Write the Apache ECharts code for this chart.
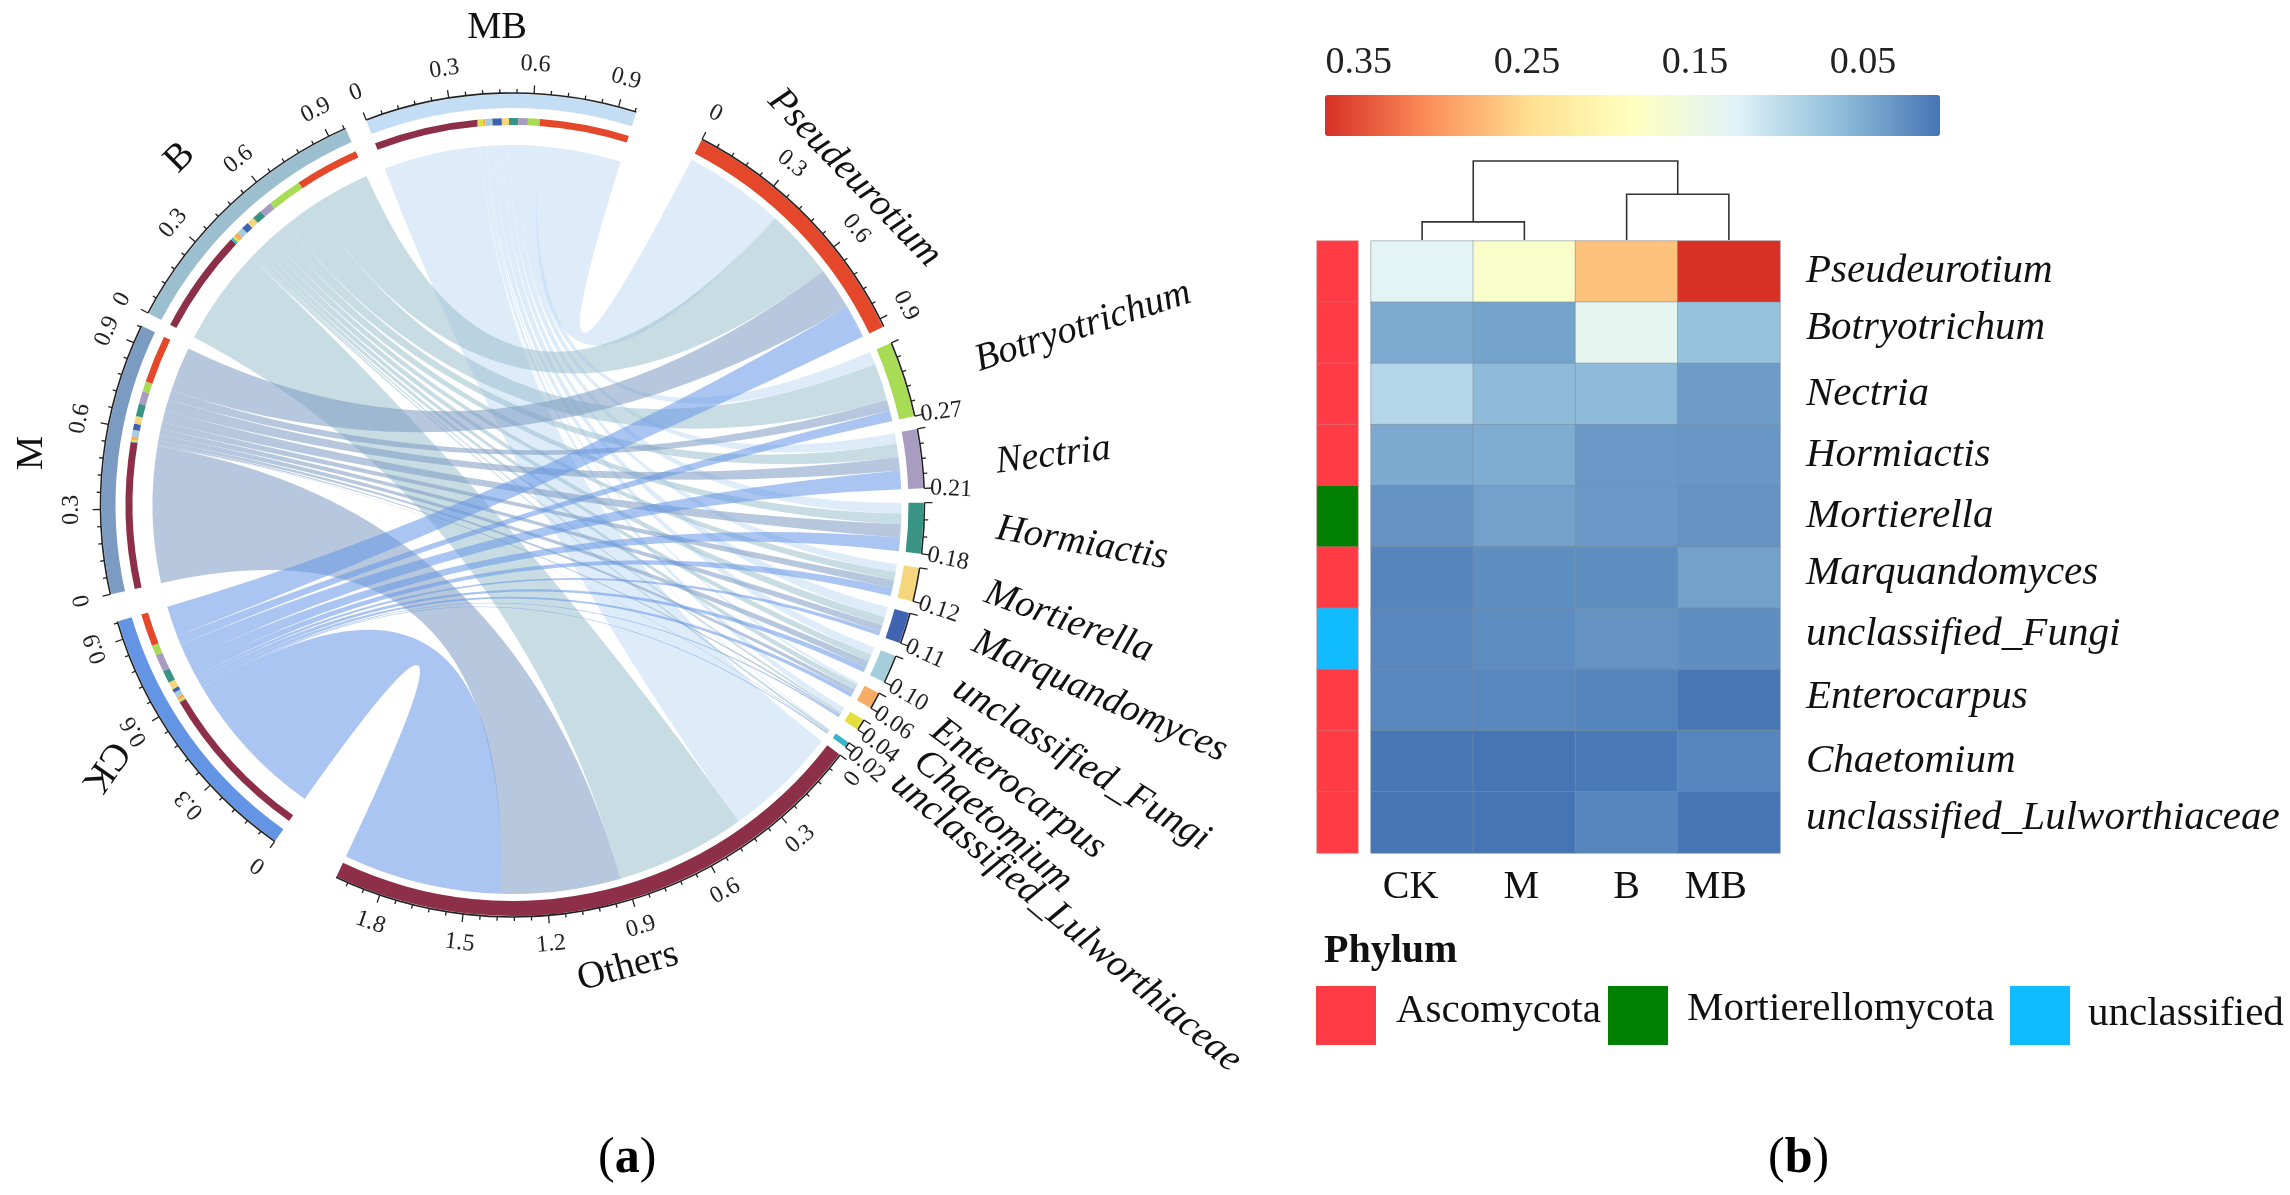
<!DOCTYPE html>
<html><head><meta charset="utf-8">
<style>html,body{margin:0;padding:0;background:#fff}#c{width:2290px;height:1195px}</style>
<script src="https://cdn.jsdelivr.net/npm/echarts@6/dist/echarts.min.js"></script>
</head><body><div id="c"></div>
<script>
// ---------- data ----------
const genera = ['Pseudeurotium','Botryotrichum','Nectria','Hormiactis','Mortierella','Marquandomyces','unclassified_Fungi','Enterocarpus','Chaetomium','unclassified_Lulworthiaceae','Others'];
const linkSamples = ['MB','B','M','CK'];
// composition of each sample (drawn on the sample side of the chords, columns follow linkSamples)
const flowPseudeurotium = [.38,.26,.19,.13];
const flowBotryotrichum = [.05,.14,.04,.04];
const flowNectria = [.04,.05,.05,.07];
const flowHormiactis = [.04,.04,.05,.05];
const flowMortierella = [.03,.03,.03,.03];
const flowMarquandomyces = [.04,.03,.025,.015];
const flowFungi = [.03,.025,.025,.02];
const flowEnterocarpus = [.01,.02,.015,.015];
const flowChaetomium = [.02,.008,.006,.006];
const flowLulworthiaceae = [.004,.01,.003,.003];
const flowOthers = [.44,.42,.58,.64];
const flows = [flowPseudeurotium,flowBotryotrichum,flowNectria,flowHormiactis,flowMortierella,flowMarquandomyces,flowFungi,flowEnterocarpus,flowChaetomium,flowLulworthiaceae,flowOthers];
// widths read at the genus end of the two large sectors
const genusEndPseudeurotium = [.38,.265,.16,.125];
const genusEndOthers = [.43,.49,.45,.595];
const sampleAxisTotal = .965;
const genusEndLabels = [null,'0.27','0.21','0.18','0.12','0.11','0.10','0.06','0.04','0.02',null];
const genusTickDivisions = [null,5,4,3,1,1,1,1,1,1,null];
const majorTickLabels = ['0','0.3','0.6','0.9','1.2','1.5','1.8'];

const heatSamples = ['CK','M','B','MB'];
const heatGenera = genera.slice(0,10);
const heatPseudeurotium = [.13,.176,.27,.37];
const heatBotryotrichum = [.048,.042,.135,.068];
const heatNectria = [.092,.062,.062,.036];
const heatHormiactis = [.047,.05,.033,.032];
const heatMortierella = [.028,.04,.033,.028];
const heatMarquandomyces = [.017,.025,.025,.04];
const heatFungi = [.02,.024,.028,.025];
const heatEnterocarpus = [.02,.02,.016,.006];
const heatChaetomium = [.006,.003,.007,.018];
const heatLulworthiaceae = [.005,.004,.018,.004];
const heatRows = [heatPseudeurotium,heatBotryotrichum,heatNectria,heatHormiactis,heatMortierella,heatMarquandomyces,heatFungi,heatEnterocarpus,heatChaetomium,heatLulworthiaceae];
const phylumNames = ['Ascomycota','Mortierellomycota','unclassified'];
const genusPhylum = [0,0,0,0,1,0,2,0,0,0];
const colorbarTicks = [.35,.25,.15,.05];
// dendrogram merges: left x, right x, left child height, right child height, merge height
const dendroMerges = [[0,1,0,0,.23],[2,3,0,0,.58],[.5,2.5,.23,.58,1]];

// ---------- style ----------
const SERIF = '"Liberation Serif","Times New Roman",serif';
const genusColors = ['#E4472A','#A8DC55','#A89CC0','#3A9486','#F6D67D','#3F63B0','#A5CDDC','#F6AD63','#E5DF3C','#35B7C9','#8D2F49'];
const sampleColors = {MB:'#C3DDF5',B:'#9BBFCE',M:'#7C9BC2',CK:'#6495E5'};
const phylumColors = ['#FF3B45','#008000','#10BBFF'];
const heatStops = ['#4575B4','#91BFDB','#E0F3F8','#FFFFBF','#FEE090','#FC8D59','#D73027'];
const CX=512.5, CY=505, START=27.4;
const LBL_CX=519, LBL_CY=510;
const sectorGaps = [2.5,1.8,2,1.95,1.7,1.9,1.7,1.9,2.2,1.3,9.9,3.9,2,3.1,9.9];
const R = {axis:412, barOut:411, barIn:396, genusLink:389, sampleBarIn:397, stackOut:387, stackIn:380, sampleLink:360, tickLabel:441};
const namePlace = { // radius, angle, rotation
 Pseudeurotium:[472,45.3,46], Botryotrichum:[593,72,-18], Nectria:[537,84.2,-7], Hormiactis:[564,93.4,10],
 Mortierella:[561,101.5,20], Marquandomyces:[610,107.8,24], unclassified_Fungi:[617,114.3,32], Enterocarpus:[572,119.2,37],
 Chaetomium:[567,123.3,41], unclassified_Lulworthiaceae:[685,127,40], Others:[470,166.6,-15], CK:[487,238.2,125], M:[490,276.7,-90], B:[489,316.1,-45], MB:[483,357.4,0]};
const rowLabelLift = [0,9,0,0,0,9,9,6,0,9];
const HEAT = {l:1371,t:241,w:409,h:612};
const BAR = {l:1325,t:95,w:615,h:41,vmin:.004,vmax:.37};

// ---------- chord geometry from the data ----------
const sum = a => a.reduce((p,c)=>p+c,0);
const genusSide = flows.slice(); genusSide[0]=genusEndPseudeurotium; genusSide[10]=genusEndOthers;
const genusTotals = genusSide.map(sum);
const sampleRaw = linkSamples.map((s,j)=>sum(flows.map(r=>r[j])));
const sectorNames = genera.concat(['CK','M','B','MB']);
const sectorTotals = genusTotals.concat(linkSamples.map(()=>sampleAxisTotal));
const DEG = (360-sum(sectorGaps))/sum(sectorTotals);
const sectors = {}; let ang = START;
sectorNames.forEach((n,i)=>{ sectors[n]={name:n,start:ang,total:sectorTotals[i],end:ang+sectorTotals[i]*DEG}; ang=sectors[n].end+sectorGaps[i]; });
const pt = (a,r)=>[CX+r*Math.sin(a*Math.PI/180), CY-r*Math.cos(a*Math.PI/180)];
const fmt = p=>p[0].toFixed(2)+' '+p[1].toFixed(2);
function arcPath(a1,a2,r){return `A ${r} ${r} 0 0 1 ${fmt(pt(a2,r))}`;}
function band(a1,a2,r1,r2){return `M ${fmt(pt(a1,r2))} ${arcPath(a1,a2,r2)} L ${fmt(pt(a2,r1))} A ${r1} ${r1} 0 0 0 ${fmt(pt(a1,r1))} Z`;}

// genus side order clockwise: MB,B,M,CK; sample side order clockwise: Others, Lulworthiaceae ... Pseudeurotium
const links=[]; const stacks=[];
const gPos = genera.map(n=>sectors[n].start);
const sPos = {}; linkSamples.forEach(s=>sPos[s]=sectors[s].start);
const genusAngle = {};
genusSide.forEach((row,g)=>{ row.forEach((v,j)=>{ const a1=gPos[g], a2=a1+v*DEG; gPos[g]=a2; genusAngle[g+'_'+j]=[a1,a2]; }); });
for(let g=genera.length-1;g>=0;g--){ linkSamples.forEach((s,j)=>{ const v=flows[g][j]*sampleAxisTotal/sampleRaw[j]; const b1=sPos[s], b2=b1+v*DEG; sPos[s]=b2; const [a1,a2]=genusAngle[g+'_'+j]; links.push({j,g,a1,a2,b1,b2,s}); stacks.push({b1,b2,g}); }); }
links.sort((p,q)=>p.j-q.j);

function linkPath(l){const ro=R.genusLink, ri=R.sampleLink;
  return `M ${fmt(pt(l.a1,ro))} ${arcPath(l.a1,l.a2,ro)} Q ${CX} ${CY} ${fmt(pt(l.b1,ri))} ${arcPath(l.b1,l.b2,ri)} Q ${CX} ${CY} ${fmt(pt(l.a1,ro))} Z`;}
const tickList=[]; const tickLabelList=[]; const axisList=[];
Object.values(sectors).forEach(sec=>{
  axisList.push(sec);
  const g = genera.indexOf(sec.name);
  const small = g>=0 && genusTickDivisions[g]!=null;
  if(small){ const n=genusTickDivisions[g];
    for(let k=0;k<=n;k++){ const v=sec.total*k/n; tickList.push({a:sec.start+v*DEG,len:(k===0||k===n)?8:4}); }
    const a=sec.end; const p=pt(a,R.axis+6);
    tickLabelList.push({text:genusEndLabels[g],p,rot:a-90+5,align:'left'});
  } else {
    for(let k=0;k*.06<=sec.total+1e-9;k++){ const v=k*.06; tickList.push({a:sec.start+v*DEG,len:k%5===0?8:4}); 
      if(k%5===0){ let a=sec.start+v*DEG, r=R.tickLabel; const rot=sec.name==='Others'?a-180:a;
        if(sec.name==='Others'&&k===0){a+=1.5;r-=4;}
        tickLabelList.push({text:majorTickLabels[k/5],p:pt(a,r),rot,align:'center'}); } }
  }
});
const nameList = sectorNames.map(n=>{const q=namePlace[n]; const a=q[1]*Math.PI/180; return {text:n,p:[LBL_CX+q[0]*Math.sin(a),LBL_CY-q[0]*Math.cos(a)],rot:q[2],italic:genera.indexOf(n)>=0&&n!=='Others'};});
const samplesSec = linkSamples.map(s=>sectors[s]);
const genusSec = genera.map(n=>sectors[n]);

function noneSeries(list,render,z){return {type:'custom',coordinateSystem:'none',silent:true,z:z||2,animation:false,clip:false,
  data:list.map((_,i)=>[i]),renderItem:(p,api)=>render(list[api.value(0)])};}

const heatData=[]; heatRows.forEach((r,i)=>r.forEach((v,j)=>heatData.push([j,i,v])));
const graphicEls=[];
colorbarTicks.forEach(v=>graphicEls.push({type:'text',left:BAR.l+(BAR.vmax-v)/(BAR.vmax-BAR.vmin)*BAR.w-33,top:44,style:{text:v.toFixed(2),font:'38px '+SERIF,fill:'#222'}}));
graphicEls.push({type:'text',left:1324,top:932,style:{text:'Phylum',font:'bold 40px '+SERIF,fill:'#111'}});
[[1316,1396],[1608,1687],[2010,2088]].forEach((pos,i)=>{
  graphicEls.push({type:'rect',left:pos[0],top:986,shape:{width:60,height:59},style:{fill:phylumColors[i]}});
  graphicEls.push({type:'text',left:pos[1],top:[991,989,994][i],style:{text:phylumNames[i],font:'41px '+SERIF,fill:'#111'}});
});
const capRich={n:{fontFamily:SERIF,fontSize:50,fill:'#000'},b:{fontFamily:SERIF,fontWeight:'bold',fontSize:50,fill:'#000'}};
graphicEls.push({type:'text',left:598,top:1134,style:{text:'{n|(}{b|a}{n|)}',rich:capRich}});
graphicEls.push({type:'text',left:1768,top:1134,style:{text:'{n|(}{b|b}{n|)}',rich:capRich}});
const colRich=pad=>({fontFamily:SERIF,fontSize:40,color:'#111',padding:[0,pad,0,0]});
const rowRich={}; rowLabelLift.forEach((lift,i)=>{rowRich['r'+i]={fontFamily:SERIF,fontStyle:'italic',fontSize:41,color:'#111',padding:[0,0,lift,0]};});

const option={
 backgroundColor:'#fff',animation:false,
 graphic:{elements:graphicEls},
 grid:[
  {left:HEAT.l,top:HEAT.t,width:HEAT.w,height:HEAT.h},
  {left:1317,top:HEAT.t,width:41,height:HEAT.h},
  {left:HEAT.l,top:161,width:HEAT.w,height:79}
 ],
 xAxis:[
  {type:'category',gridIndex:0,data:heatSamples,axisLine:{show:false},axisTick:{show:false},splitLine:{show:false},
   axisLabel:{margin:14,formatter:v=>`{${v}|${v}}`,rich:{CK:colRich(23),M:colRich(6),B:colRich(0),MB:colRich(26)}}},
  {type:'category',gridIndex:1,data:['Phylum'],show:false},
  {type:'value',gridIndex:2,min:-.5,max:3.5,show:false}
 ],
 yAxis:[
  {type:'category',gridIndex:0,data:heatGenera,inverse:true,axisLine:{show:false},axisTick:{show:false},splitLine:{show:false},position:'right',
   axisLabel:{margin:26,align:'left',formatter:(v,i)=>`{r${i}|${v}}`,rich:rowRich}},
  {type:'category',gridIndex:1,data:heatGenera,inverse:true,show:false},
  {type:'value',gridIndex:2,min:0,max:1,show:false}
 ],
 visualMap:[{type:'continuous',seriesIndex:0,min:BAR.vmin,max:BAR.vmax,orient:'horizontal',inverse:true,left:BAR.l,top:BAR.t,itemWidth:BAR.h,itemHeight:BAR.w,padding:0,calculable:false,realtime:false,inRange:{color:heatStops},text:null,showLabel:false}],
 series:[
  {type:'heatmap',xAxisIndex:0,yAxisIndex:0,data:heatData,silent:true,itemStyle:{borderColor:'rgba(130,140,150,.55)',borderWidth:1},emphasis:{disabled:true}},
  {type:'heatmap',xAxisIndex:1,yAxisIndex:1,silent:true,emphasis:{disabled:true},
   data:genusPhylum.map((p,i)=>({value:[0,i,p],itemStyle:{color:phylumColors[p],borderColor:'rgba(200,130,130,.5)',borderWidth:1}}))},
  {type:'custom',xAxisIndex:2,yAxisIndex:2,silent:true,animation:false,data:dendroMerges,
   renderItem:(p,api)=>{const x1=api.value(0),x2=api.value(1),h1=api.value(2),h2=api.value(3),h=api.value(4);
    const a=api.coord([x1,h1]),b=api.coord([x1,h]),c=api.coord([x2,h]),d=api.coord([x2,h2]);
    return {type:'polyline',shape:{points:[a,b,c,d]},style:{stroke:'#333',lineWidth:1.6,fill:null}};}},
  noneSeries(links,l=>({type:'path',shape:{pathData:linkPath(l)},style:{fill:sampleColors[l.s],opacity:.55,stroke:null}}),2),
  noneSeries(stacks,s=>({type:'path',shape:{pathData:band(s.b1,s.b2,R.stackIn,R.stackOut)},style:{fill:genusColors[s.g]}}),3),
  noneSeries(samplesSec,s=>({type:'path',shape:{pathData:band(s.start,s.end,R.sampleBarIn,R.barOut)},style:{fill:sampleColors[s.name]}}),3),
  noneSeries(genusSec,s=>({type:'path',shape:{pathData:band(s.start,s.end,R.barIn,R.barOut)},style:{fill:genusColors[genera.indexOf(s.name)]}}),3),
  noneSeries(axisList,s=>({type:'path',shape:{pathData:`M ${fmt(pt(s.start,R.axis))} ${arcPath(s.start,s.end,R.axis)}`},style:{stroke:'#222',lineWidth:1.6,fill:null}}),4),
  noneSeries(tickList,t=>({type:'line',shape:{x1:pt(t.a,R.axis)[0],y1:pt(t.a,R.axis)[1],x2:pt(t.a,R.axis+t.len)[0],y2:pt(t.a,R.axis+t.len)[1]},style:{stroke:'#222',lineWidth:1.3}}),4),
  noneSeries(tickLabelList,t=>({type:'text',x:t.p[0],y:t.p[1],rotation:-t.rot*Math.PI/180,style:{text:t.text,x:0,y:0,font:'24px '+SERIF,fill:'#222',align:t.align,verticalAlign:'middle'}}),5),
  noneSeries(nameList,t=>({type:'text',x:t.p[0],y:t.p[1],rotation:-t.rot*Math.PI/180,style:{text:t.text,x:0,y:0,font:(t.italic?'italic ':'')+'38.5px '+SERIF,fill:'#111',align:'center',verticalAlign:'middle'}}),5)
 ]
};
const chart=echarts.init(document.getElementById('c'),null,{renderer:'canvas'});
chart.setOption(option);
</script></body></html>
